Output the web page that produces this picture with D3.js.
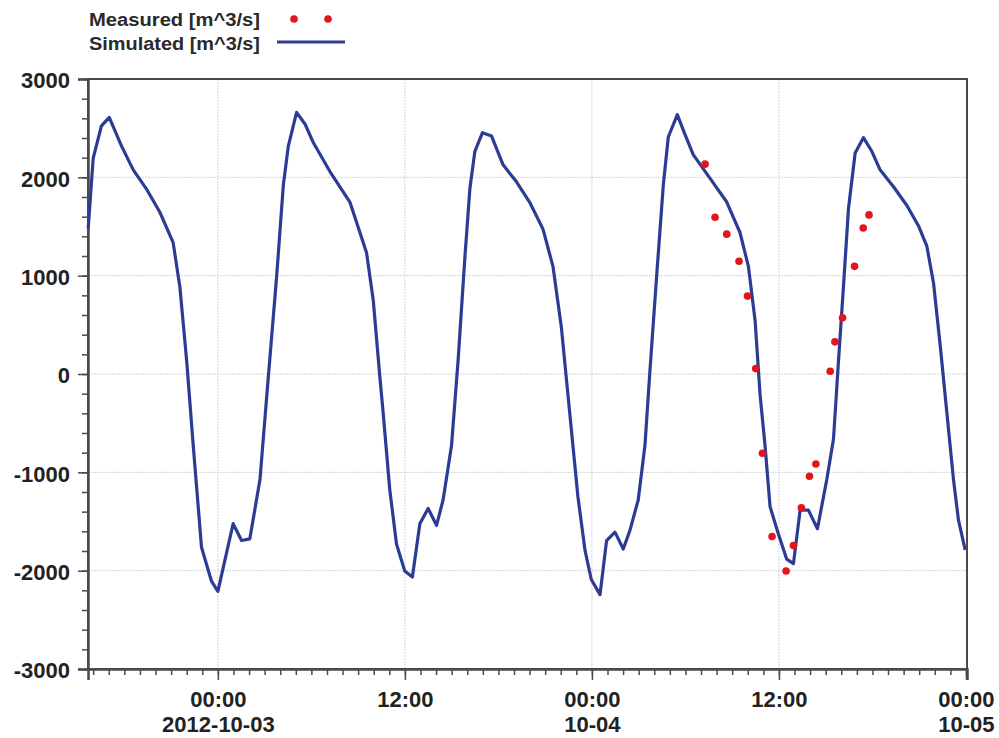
<!DOCTYPE html>
<html>
<head>
<meta charset="utf-8">
<script src="https://cdn.jsdelivr.net/npm/d3@7"></script>
<style>
  body { margin: 0; background: #fff; }
  svg text { font-family: "Liberation Sans", Arial, sans-serif; font-weight: bold; }
</style>
</head>
<body>
<svg id="chart" width="999" height="738"></svg>
<script>
// Data: hours counted from 2012-10-03 00:00
const simHours = [-8.32, -8.0, -7.47, -6.97, -6.18, -5.43, -4.6, -3.72, -2.87, -2.44, -2.0, -1.58, -1.05, -0.41, 0.0,
  0.98, 1.52, 2.05, 2.7, 3.23, 3.77, 4.2, 4.52, 5.05, 5.6, 6.13, 7.19, 8.47, 9.54, 9.97, 10.4, 10.6, 11.03, 11.46, 11.99,
  12.48, 12.96, 13.49, 14.03, 14.45, 14.99, 15.41, 15.84, 16.17, 16.49, 16.98, 17.56, 18.3, 19.16, 20.0, 20.86, 21.5,
  22.04, 22.57, 23.1, 23.56, 23.96, 24.52, 24.94, 25.48, 26.01, 26.44, 26.97, 27.4, 27.72, 28.15, 28.58, 28.9, 29.48,
  29.97, 30.5, 31.58, 32.65, 33.5, 34.04, 34.47, 34.79, 35.11, 35.43, 35.96, 36.5, 36.93, 37.36, 37.89, 38.47, 39.07,
  39.5, 39.82, 40.14, 40.46, 40.89, 41.42, 41.96, 42.49, 43.35, 44.21, 44.95, 45.49, 45.92, 46.34, 46.77, 47.2, 47.52, 47.95];
const simValues = [1480, 2196, 2523, 2609, 2317, 2076, 1886, 1645, 1336, 888, 131, -730, -1762, -2107, -2210,
  -1522, -1693, -1676, -1074, -41, 991, 1921, 2317, 2661, 2540, 2351, 2059, 1749, 1232, 750, -41, -386, -1177, -1728, -2003,
  -2065, -1522, -1367, -1539, -1281, -730, 131, 1164, 1886, 2265, 2454, 2420, 2127, 1955, 1749, 1473, 1095,
  475, -386, -1246, -1797, -2090, -2244, -1694, -1608, -1780, -1590, -1281, -730, 28, 991, 1921, 2410, 2637,
  2437, 2231, 1990, 1749, 1439, 1095, 544, -213, -730, -1349, -1625, -1883, -1928, -1384, -1384, -1573, -1074,
  -661, 131, 888, 1680, 2248, 2403, 2265, 2076, 1904, 1714, 1508, 1301, 923, 303, -386, -1074, -1487, -1790];

const measHours = [31.26, 31.9, 32.65, 33.44, 33.98, 34.51, 34.94, 35.56, 36.46, 36.93, 37.44, 37.96, 38.37,
  39.29, 39.59, 40.08, 40.85, 41.41, 41.78];
const measValues = [2134, 1594, 1422, 1146, 792, 55, -806, -1652, -2003, -1745, -1360, -1040, -916,
  28, 327, 571, 1095, 1484, 1618];

const yTicks = [-3000, -2000, -1000, 0, 1000, 2000, 3000];
const xTickHours = [0, 12, 24, 36, 48];
const xTickLabels = [["00:00", "2012-10-03"], ["12:00"], ["00:00", "10-04"], ["12:00"], ["00:00", "10-05"]];
const legendLabels = ["Measured [m^3/s]", "Simulated [m^3/s]"];

const base = new Date(2012, 9, 3, 0, 0);
const toDate = h => new Date(base.getTime() + h * 3600 * 1000);

const margin = {top: 79, right: 32, bottom: 69, left: 88};
const width = 999, height = 738;

const svg = d3.select("#chart");

const x = d3.scaleTime()
  .domain([new Date(2012, 9, 2, 15, 40), new Date(2012, 9, 5, 0, 4)])
  .range([margin.left, width - margin.right]);
const y = d3.scaleLinear()
  .domain([-3000, 3000])
  .range([height - margin.bottom, margin.top]);

const lineColor = "#2c3c94";
const dotColor = "#e2151b";
const axisColor = "#4a4a4a";

// grid
const grid = svg.append("g");
grid.selectAll(".gy").data(yTicks.slice(1, -1)).enter()
  .append("line")
  .attr("x1", margin.left).attr("x2", width - margin.right)
  .attr("y1", d => y(d)).attr("y2", d => y(d))
  .attr("stroke", "#d0d2e0").attr("stroke-width", 1).attr("stroke-dasharray", "2,1");
grid.selectAll(".gx").data(xTickHours.slice(0, -1)).enter()
  .append("line")
  .attr("x1", d => x(toDate(d))).attr("x2", d => x(toDate(d)))
  .attr("y1", margin.top).attr("y2", height - margin.bottom)
  .attr("stroke", "#d0d2e0").attr("stroke-width", 1).attr("stroke-dasharray", "2,1");

// frame
svg.append("rect")
  .attr("x", margin.left).attr("y", margin.top)
  .attr("width", width - margin.left - margin.right)
  .attr("height", height - margin.top - margin.bottom)
  .attr("fill", "none").attr("stroke", axisColor).attr("stroke-width", 2);

// minor ticks
const minorY = svg.append("g")
  .attr("transform", `translate(${margin.left},0)`)
  .call(d3.axisLeft(y).tickValues(d3.range(-3000, 3001, 200)).tickSize(6).tickFormat(""));
const minorX = svg.append("g")
  .attr("transform", `translate(0,${height - margin.bottom})`)
  .call(d3.axisBottom(x).ticks(d3.timeHour.every(1)).tickSize(6).tickFormat(""));
[minorY, minorX].forEach(g => {
  g.select(".domain").remove();
  g.selectAll("line").attr("stroke", axisColor).attr("stroke-width", 1.5);
});

// major ticks + labels
const yAxis = svg.append("g")
  .attr("transform", `translate(${margin.left},0)`)
  .call(d3.axisLeft(y).tickValues(yTicks).tickSize(10).tickPadding(8).tickFormat(d => String(d)));
const xAxis = svg.append("g")
  .attr("transform", `translate(0,${height - margin.bottom})`)
  .call(d3.axisBottom(x).tickValues(xTickHours.map(toDate)).tickSize(11).tickFormat(""));
[yAxis, xAxis].forEach(g => {
  g.select(".domain").attr("stroke", axisColor).attr("stroke-width", 2.5);
  g.selectAll("line").attr("stroke", axisColor).attr("stroke-width", 1.5);
});
yAxis.selectAll("text")
  .attr("font-size", 22).attr("fill", "#222").attr("dy", "0.4em");

xAxis.selectAll(".tick").each(function(d, i) {
  const t = d3.select(this).append("text")
    .attr("fill", "#222").attr("font-size", 22).attr("text-anchor", "middle");
  xTickLabels[i].forEach((s, j) => {
    t.append("tspan").attr("x", 0).attr("y", 38 + j * 25).text(s);
  });
});

// simulated line
const simData = simHours.map((h, i) => ({t: toDate(h), v: simValues[i]}));
svg.append("path")
  .datum(simData)
  .attr("fill", "none")
  .attr("stroke", lineColor)
  .attr("stroke-width", 3.2)
  .attr("stroke-linejoin", "round")
  .attr("d", d3.line().x(d => x(d.t)).y(d => y(d.v)));

// measured points
const measData = measHours.map((h, i) => ({t: toDate(h), v: measValues[i]}));
svg.append("g").selectAll("circle").data(measData).enter()
  .append("circle")
  .attr("cx", d => x(d.t)).attr("cy", d => y(d.v))
  .attr("r", 3.8).attr("fill", dotColor);

// legend
const legend = svg.append("g");
legend.selectAll("text").data(legendLabels).enter()
  .append("text")
  .attr("x", 89).attr("y", (d, i) => 26 + i * 24)
  .attr("font-size", 18).attr("fill", "#2a2a2a")
  .attr("textLength", 171).attr("lengthAdjust", "spacingAndGlyphs")
  .text(d => d);
legend.selectAll("circle").data([294, 328]).enter()
  .append("circle")
  .attr("cx", d => d).attr("cy", 19).attr("r", 3.8).attr("fill", dotColor);
legend.append("line")
  .attr("x1", 277).attr("x2", 345).attr("y1", 42).attr("y2", 42)
  .attr("stroke", lineColor).attr("stroke-width", 3);
</script>
</body>
</html>
